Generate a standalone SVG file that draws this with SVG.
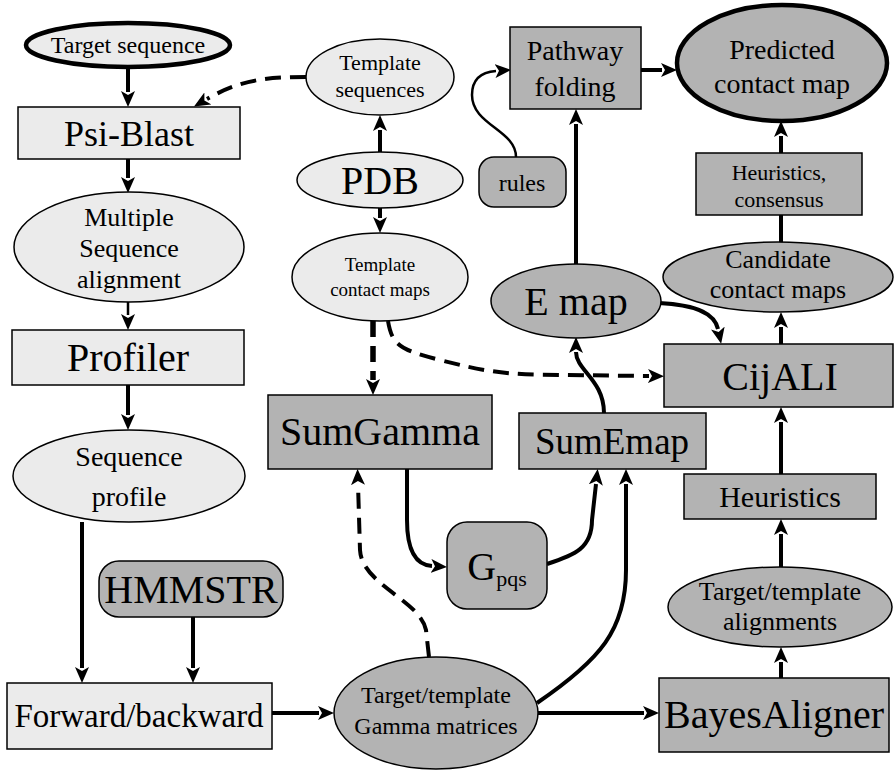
<svg xmlns="http://www.w3.org/2000/svg" width="894" height="771" viewBox="0 0 894 771" font-family="'Liberation Serif', 'DejaVu Serif', serif">
<style>
text{font-family:'Liberation Serif','DejaVu Serif',serif;fill:#000;text-anchor:middle}
.l{fill:#ebebeb;stroke:#000;stroke-width:1.5}
.g{fill:#b3b3b3;stroke:#000;stroke-width:1.5}
.thick{stroke-width:4.5}
.c path{fill:none;stroke:#000;stroke-width:4}
.c .d{stroke-dasharray:16 9}
</style>
<defs>
<marker id="a" viewBox="0 0 16 14" refX="1" refY="7" markerWidth="16" markerHeight="14" markerUnits="userSpaceOnUse" orient="auto">
<path d="M0,0 L16,7 L0,14 L4,7 z" fill="#000"/>
</marker>
</defs>
<rect width="894" height="771" fill="#fff"/>
<g class="c">
<path d="M128,67 L128,92" marker-end="url(#a)"/>
<path d="M128,159 L128,178" marker-end="url(#a)"/>
<path d="M128,302 L128,315" marker-end="url(#a)" style="stroke-width:2.5"/>
<path d="M128,385 L128,415" marker-end="url(#a)"/>
<path d="M82,522 L82,668" marker-end="url(#a)"/>
<path d="M193,617 L193,668" marker-end="url(#a)"/>
<path d="M272,713 L319,713" marker-end="url(#a)"/>
<path d="M538,713 L644,713" marker-end="url(#a)"/>
<path d="M781,678 L781,662" marker-end="url(#a)"/>
<path d="M781,568 L781,534" marker-end="url(#a)"/>
<path d="M781,474 L781,422" marker-end="url(#a)"/>
<path d="M781,344 L781,327" marker-end="url(#a)"/>
<path d="M781,243 L781,215"/>
<path d="M781,153 L781,136" marker-end="url(#a)"/>
<path d="M641,70 L662,70" marker-end="url(#a)"/>
<path d="M576,264 L576,124" marker-end="url(#a)"/>
<path d="M516,157 C516,130 472,125 472,95 C472,78 482,72 496,71" marker-end="url(#a)" style="stroke-width:2.5"/>
<path class="d" d="M306,77 C265,77 240,80 207,99" marker-end="url(#a)"/>
<path d="M380,152 L380,130" marker-end="url(#a)"/>
<path d="M380,207 L380,218" marker-end="url(#a)"/>
<path class="d" d="M373,321 L373,380" marker-end="url(#a)" style="stroke-width:5.5"/>
<path class="d" d="M388,321 C392,345 400,350 440,360 C480,370 500,375 560,375 L649,376" marker-end="url(#a)"/>
<path d="M604,413 C604,380 576,370 576,352" marker-end="url(#a)"/>
<path d="M659,303 C700,305 715,315 718,329" marker-end="url(#a)"/>
<path d="M537,703 C600,660 626,630 626,570 L626,484" marker-end="url(#a)"/>
<path d="M407,469 L407,520 C407,550 415,565 432,566" marker-end="url(#a)"/>
<path d="M547,564 C575,555 592,548 592,520 L596,484" marker-end="url(#a)"/>
<path class="d" d="M429,657 L426,630 C420,600 362,585 360,550 L358,484" marker-end="url(#a)"/>
</g>
<g id="target-sequence"><ellipse class="l thick" cx="128" cy="45" rx="102" ry="22"/><text x="128" y="53" font-size="24">Target sequence</text></g>
<g id="psi-blast"><rect class="l" x="18" y="107" width="222" height="52"/><text x="129" y="146" font-size="36">Psi-Blast</text></g>
<g id="msa"><ellipse class="l" cx="129" cy="247" rx="115" ry="55"/><text font-size="26"><tspan x="129" y="226">Multiple</tspan><tspan x="129" y="257">Sequence</tspan><tspan x="129" y="288">alignment</tspan></text></g>
<g id="profiler"><rect class="l" x="12" y="330" width="232" height="55"/><text x="128" y="371" font-size="40">Profiler</text></g>
<g id="sequence-profile"><ellipse class="l" cx="129" cy="476" rx="116" ry="46"/><text font-size="28"><tspan x="129" y="466">Sequence</tspan><tspan x="129" y="506">profile</tspan></text></g>
<g id="hmmstr"><rect class="g" x="99" y="561" width="184" height="56" rx="20"/><text x="191" y="603" font-size="40">HMMSTR</text></g>
<g id="forward-backward"><rect class="l" x="7" y="683" width="265" height="66"/><text x="139" y="727" font-size="33">Forward/backward</text></g>
<g id="gamma-matrices"><ellipse class="g" cx="436" cy="713" rx="102" ry="56"/><text font-size="24"><tspan x="436" y="703">Target/template</tspan><tspan x="436" y="734">Gamma matrices</tspan></text></g>
<g id="bayesaligner"><rect class="g" x="659" y="678" width="230" height="74"/><text x="774" y="728" font-size="40">BayesAligner</text></g>
<g id="alignments"><ellipse class="g" cx="780" cy="607" rx="112" ry="40"/><text font-size="26"><tspan x="780" y="600">Target/template</tspan><tspan x="780" y="630">alignments</tspan></text></g>
<g id="heuristics"><rect class="g" x="684" y="474" width="192" height="45"/><text x="780" y="507" font-size="30">Heuristics</text></g>
<g id="cijali"><rect class="g" x="664" y="344" width="229" height="63"/><text x="780" y="390" font-size="40">CijALI</text></g>
<g id="candidate"><ellipse class="g" cx="778" cy="277" rx="115" ry="35"/><text font-size="26"><tspan x="778" y="268">Candidate</tspan><tspan x="778" y="298">contact maps</tspan></text></g>
<g id="heuristics-consensus"><rect class="g" x="696" y="153" width="166" height="62"/><text font-size="22"><tspan x="779" y="180">Heuristics,</tspan><tspan x="779" y="207">consensus</tspan></text></g>
<g id="predicted"><ellipse class="g thick" cx="782" cy="63" rx="105" ry="58"/><text font-size="28"><tspan x="782" y="59">Predicted</tspan><tspan x="782" y="93">contact map</tspan></text></g>
<g id="pathway-folding"><rect class="g" x="510" y="27" width="131" height="82"/><text font-size="28"><tspan x="575" y="60">Pathway</tspan><tspan x="575" y="96">folding</tspan></text></g>
<g id="rules"><rect class="g" x="479" y="157" width="87" height="50" rx="15"/><text x="522" y="191" font-size="24">rules</text></g>
<g id="template-sequences"><ellipse class="l" cx="380" cy="77" rx="74" ry="38"/><text font-size="22"><tspan x="380" y="70">Template</tspan><tspan x="380" y="97">sequences</tspan></text></g>
<g id="pdb"><ellipse class="l" cx="380" cy="180" rx="83" ry="28"/><text x="380" y="194" font-size="40">PDB</text></g>
<g id="template-contact-maps"><ellipse class="l" cx="380" cy="277" rx="88" ry="44"/><text font-size="19"><tspan x="380" y="271">Template</tspan><tspan x="380" y="296">contact maps</tspan></text></g>
<g id="sumgamma"><rect class="g" x="268" y="395" width="224" height="74"/><text x="380" y="445" font-size="40">SumGamma</text></g>
<g id="sumemap"><rect class="g" x="519" y="413" width="187" height="56"/><text x="612" y="454" font-size="37">SumEmap</text></g>
<g id="emap"><ellipse class="g" cx="576" cy="301" rx="85" ry="37"/><text x="576" y="315" font-size="40">E map</text></g>
<g id="gpqs"><rect class="g" x="447" y="522" width="100" height="87" rx="20"/><text x="497" y="580" font-size="40">G<tspan font-size="22" dy="6">pqs</tspan></text></g>
</svg>
